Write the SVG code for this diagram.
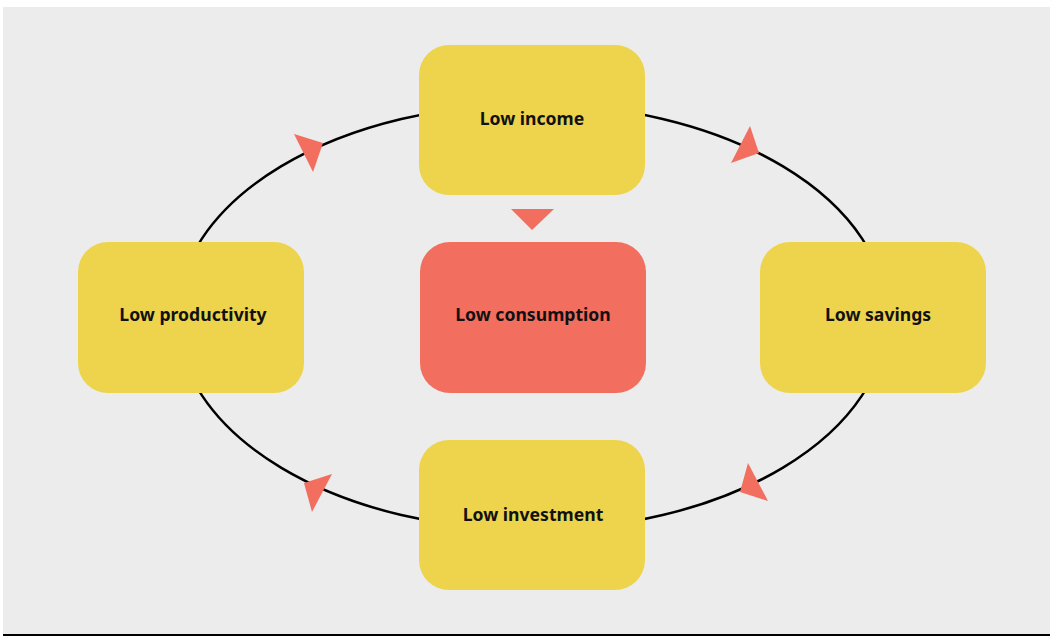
<svg xmlns="http://www.w3.org/2000/svg" width="1050" height="636" viewBox="0 0 1050 636">
<style>
.box{fill:#EDD44C}
.red{fill:#F26E5E}
.lbl{font-family:"Noto Sans","Open Sans",sans-serif;font-weight:700;font-size:17.6px;fill:#111;text-anchor:middle}
.arr{fill:#F26E5E}
</style>
<rect x="0" y="0" width="1050" height="636" fill="#FFFFFF"/>
<rect x="3" y="7" width="1047" height="627" fill="#EBECEB"/>
<line x1="3" y1="635" x2="1050" y2="635" stroke="#000" stroke-width="2"/>
<g id="connectors">
<ellipse cx="532" cy="317" rx="355" ry="213" fill="none" stroke="#000" stroke-width="2.5"/>
<polygon class="arr" points="323,143 294,134 313,172"/>
<polygon class="arr" points="759,153 750,126 731,163"/>
<polygon class="arr" points="740,492 748,463 768,501"/>
<polygon class="arr" points="304,483 332,474 312,512"/>
<polygon class="arr" points="511,209 554,209 532,230"/>
</g>
<g id="low-income"><rect class="box" x="419" y="45" width="226" height="150" rx="30"/><text class="lbl" x="532" y="125">Low income</text></g>
<g id="low-productivity"><rect class="box" x="78" y="242" width="226" height="151" rx="30"/><text class="lbl" x="193" y="321">Low productivity</text></g>
<g id="low-consumption"><rect class="red" x="420" y="242" width="226" height="151" rx="30"/><text class="lbl" x="533" y="321">Low consumption</text></g>
<g id="low-savings"><rect class="box" x="760" y="242" width="226" height="151" rx="30"/><text class="lbl" x="878" y="321">Low savings</text></g>
<g id="low-investment"><rect class="box" x="419" y="440" width="226" height="150" rx="30"/><text class="lbl" x="533" y="521">Low investment</text></g>
</svg>
